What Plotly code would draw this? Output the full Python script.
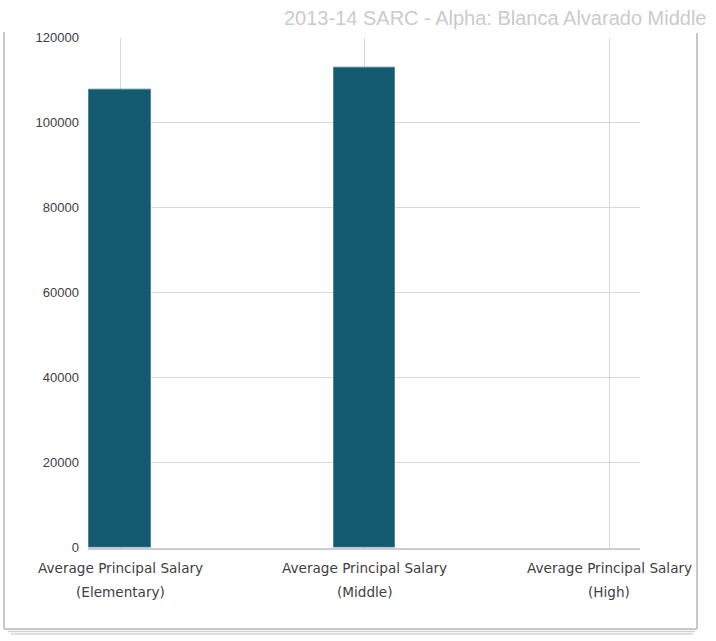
import plotly.graph_objects as go

# Data
categories = ["Elementary", "Middle", "High"]
label_line1 = ["Average Principal Salary"] * 3
label_line2 = ["(Elementary)", "(Middle)", "(High)"]
salaries = [107700, 112950, None]
y_ticks = [0, 20000, 40000, 60000, 80000, 100000, 120000]

W, H = 716, 641


def px(x):
    return x / W


def py(y):
    return 1 - y / H


fig = go.Figure()
fig.add_trace(go.Bar(
    x=categories,
    y=salaries,
    width=0.25,
    marker=dict(color="#135a70", line=dict(color="#4f8797", width=1)),
    hoverinfo="x+y",
))

# Category labels, two lines under each bar slot
label_font = dict(family="DejaVu Sans", size=13.6, color="#404040")
annotations = []
for cat, l1, l2 in zip(categories, label_line1, label_line2):
    annotations.append(dict(x=cat, xref="x", y=py(568), yref="paper", text=l1,
                            showarrow=False, xanchor="center", yanchor="middle",
                            font=label_font))
    annotations.append(dict(x=cat, xref="x", y=py(592), yref="paper", text=l2,
                            showarrow=False, xanchor="center", yanchor="middle",
                            font=label_font))

# Title in the top-right corner
annotations.append(dict(x=px(708), xref="paper", y=py(18), yref="paper",
                        text="2013-14 SARC - Alpha: Blanca Alvarado Middle",
                        showarrow=False, xanchor="right", yanchor="middle",
                        font=dict(family="Liberation Sans", size=20, color="#cbcbcb")))

# Frame around the chart with a stacked-paper shadow at the bottom
frame_col = "#c8c8c8"
shapes = [
    dict(type="line", xref="paper", yref="paper", x0=px(4), x1=px(4), y0=py(32), y1=py(629),
         line=dict(color=frame_col, width=2)),
    dict(type="line", xref="paper", yref="paper", x0=px(697), x1=px(697), y0=py(33), y1=py(629),
         line=dict(color=frame_col, width=2)),
    dict(type="line", xref="paper", yref="paper", x0=px(4), x1=px(697), y0=py(629), y1=py(629),
         line=dict(color=frame_col, width=2)),
    dict(type="line", xref="paper", yref="paper", x0=px(8), x1=px(695), y0=py(631.5), y1=py(631.5),
         line=dict(color="#d0d0d0", width=1.5)),
    dict(type="line", xref="paper", yref="paper", x0=px(11), x1=px(693), y0=py(634), y1=py(634),
         line=dict(color="#d4d4d4", width=1.5)),
]

x0_frac, x1_frac = 88 / W, 640 / W
unit = (609 - 120) / 2
xr = [-(120 - 88) / unit, 2 + (640 - 609) / unit]

fig.update_layout(
    width=W, height=H,
    margin=dict(l=0, r=0, t=0, b=0, autoexpand=False),
    paper_bgcolor="white", plot_bgcolor="white",
    showlegend=False,
    bargap=0,
    xaxis=dict(
        type="category", domain=[x0_frac, x1_frac], range=xr,
        automargin=False,
        showgrid=True, gridcolor="#d9d9d9", gridwidth=1,
        showticklabels=False, ticks="", zeroline=False,
        showline=True, linecolor="#cccccc", linewidth=1.5,
    ),
    yaxis=dict(
        domain=[py(547.5), py(37.7)], range=[0, 120000],
        automargin=False,
        tickvals=y_ticks, ticktext=[str(v) for v in y_ticks],
        showgrid=True, gridcolor="#d9d9d9", gridwidth=1,
        zeroline=False, showline=False, ticks="",
        ticklabelstandoff=8,
        tickfont=dict(family="Liberation Sans", size=13, color="#404040"),
    ),
    annotations=annotations,
    shapes=shapes,
)

fig.write_html("out.html")
